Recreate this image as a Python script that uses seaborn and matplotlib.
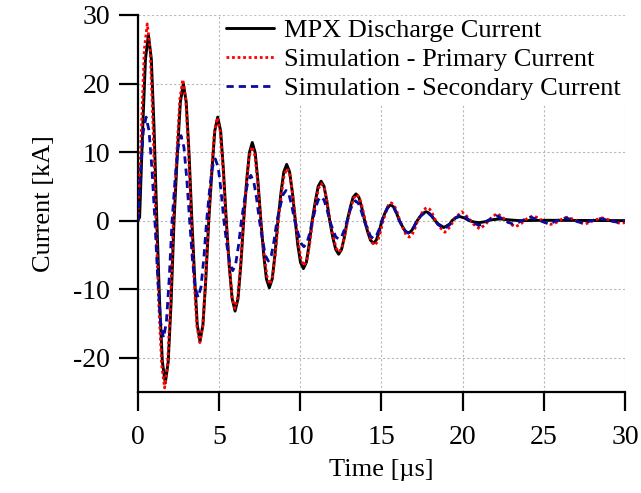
import matplotlib
matplotlib.use("Agg")
import matplotlib.pyplot as plt
import seaborn as sns

# --- data (time in us, current in kA) ---
mpx_t = [0.00, 0.10, 0.29, 0.46, 0.64, 0.82, 0.99, 1.16,
         1.33, 1.50, 1.68, 1.86, 2.04, 2.22,
         2.43, 2.61, 2.79, 2.97, 3.14, 3.32,
         3.50, 3.65, 3.82, 4.00, 4.17, 4.36,
         4.56, 4.73, 4.91, 5.09, 5.26, 5.44,
         5.62, 5.80, 5.98, 6.16, 6.33, 6.51,
         6.69, 6.86, 7.04, 7.22, 7.39, 7.57,
         7.74, 7.91, 8.09, 8.27, 8.44, 8.62,
         8.81, 8.98, 9.16, 9.34, 9.51, 9.69,
         9.84, 10.01, 10.19, 10.37, 10.54, 10.73,
         10.93, 11.10, 11.28, 11.46, 11.63, 11.81,
         12.00, 12.18, 12.36, 12.54, 12.71, 12.89,
         13.08, 13.25, 13.43, 13.61, 13.78, 13.96,
         14.15, 14.32, 14.50, 14.68, 14.85, 15.03,
         15.22, 15.39, 15.57, 15.75, 15.92, 16.10,
         16.30, 16.47, 16.65, 16.83, 17.00, 17.20,
         17.40, 17.57, 17.75, 17.93, 18.10, 18.30,
         18.50, 18.85, 19.20, 19.35,
         19.55, 19.80, 20.10, 20.40,
         20.70, 21.00, 21.40, 21.70, 22.30, 22.90, 23.50, 25.00, 30.00]
mpx_i = [0.0, 0.5, 13.5, 23.6, 27.1, 23.6, 13.5, 0.0,
         -11.9, -20.6, -23.7, -20.6, -11.9, 0.0,
         10.0, 17.3, 20.0, 17.3, 10.0, 0.0,
         -8.8, -15.2, -17.6, -15.2, -8.8, 0.0,
         7.5, 13.1, 15.1, 13.1, 7.5, 0.0,
         -6.6, -11.4, -13.2, -11.4, -6.6, 0.0,
         5.7, 9.9, 11.4, 9.9, 5.7, 0.0,
         -4.9, -8.5, -9.8, -8.5, -4.9, 0.0,
         4.1, 7.1, 8.2, 7.1, 4.1, 0.0,
         -3.5, -6.1, -7.0, -6.1, -3.5, 0.0,
         2.9, 5.0, 5.75, 5.0, 2.9, 0.0,
         -2.45, -4.2, -4.9, -4.2, -2.45, 0.0,
         1.95, 3.4, 3.9, 3.4, 1.95, 0.0,
         -1.65, -2.85, -3.3, -2.85, -1.65, 0.0,
         1.15, 2.0, 2.3, 2.0, 1.15, 0.0,
         -0.9, -1.55, -1.8, -1.55, -0.9, 0.0,
         0.65, 1.1, 1.3, 1.1, 0.65, 0.0,
         -0.5, -1.0, -0.5, 0.0,
         0.4, 0.6, 0.4, 0.0,
         -0.2, -0.3, -0.15, 0.1, 0.25, 0.1, 0.0, 0.05, 0.0]

pri_t = [0.00, 0.22, 0.39, 0.57, 0.75, 0.92, 1.10,
         1.28, 1.46, 1.64, 1.82, 2.00, 2.18,
         2.40, 2.58, 2.76, 2.94, 3.11, 3.29,
         3.46, 3.63, 3.81, 3.99, 4.16, 4.34,
         4.54, 4.71, 4.89, 5.07, 5.24, 5.42,
         5.62, 5.79, 5.97, 6.15, 6.32, 6.50,
         6.68, 6.85, 7.03, 7.21, 7.38, 7.56,
         7.76, 7.94, 8.12, 8.30, 8.47, 8.65,
         8.83, 9.00, 9.18, 9.36, 9.53, 9.71,
         9.88, 10.05, 10.23, 10.41, 10.58, 10.76,
         10.95, 11.12, 11.30, 11.48, 11.65, 11.83,
         12.03, 12.20, 12.38, 12.56, 12.73, 12.91,
         13.12, 13.29, 13.47, 13.65, 13.82, 14.00,
         14.22, 14.39, 14.57, 14.75, 14.92, 15.10,
         15.28, 15.42, 15.60, 15.78, 15.95, 16.13,
         16.34, 16.52, 16.70, 16.88, 17.05, 17.23,
         17.45, 17.62, 17.80, 17.98, 18.15, 18.33,
         18.55, 18.90, 19.25, 19.43,
         19.65, 19.95, 20.25, 20.50,
         20.70, 21.05, 21.40, 21.60,
         21.80, 22.12, 22.45, 22.70,
         22.90, 23.25, 23.60, 23.80,
         24.00, 24.35, 24.70, 24.90,
         25.10, 25.42, 25.75, 25.95,
         26.15, 26.45, 26.75, 27.00,
         27.20, 27.52, 27.85, 28.05,
         28.30, 28.60, 28.90, 29.15,
         29.40, 29.70, 30.00]
pri_i = [0.0, 14.3, 25.0, 28.7, 25.0, 14.3, 0.0,
         -12.2, -21.1, -24.4, -21.1, -12.2, 0.0,
         10.3, 17.8, 20.6, 17.8, 10.3, 0.0,
         -8.9, -15.4, -17.8, -15.4, -8.9, 0.0,
         7.5, 13.0, 15.0, 13.0, 7.5, 0.0,
         -6.4, -11.1, -12.8, -11.1, -6.4, 0.0,
         5.4, 9.4, 10.8, 9.4, 5.4, 0.0,
         -4.65, -8.05, -9.3, -8.05, -4.65, 0.0,
         3.8, 6.6, 7.6, 6.6, 3.8, 0.0,
         -3.3, -5.7, -6.6, -5.7, -3.3, 0.0,
         2.7, 4.7, 5.4, 4.7, 2.7, 0.0,
         -2.3, -4.0, -4.6, -4.0, -2.3, 0.0,
         1.9, 3.3, 3.8, 3.3, 1.9, 0.0,
         -1.8, -3.1, -3.6, -3.1, -1.8, 0.0,
         1.3, 2.25, 2.6, 2.25, 1.3, 0.0,
         -1.2, -2.1, -2.4, -2.1, -1.2, 0.0,
         0.95, 1.65, 1.9, 1.65, 0.95, 0.0,
         -0.85, -1.7, -0.85, 0.0,
         0.65, 1.3, 0.65, 0.0,
         -0.6, -1.2, -0.6, 0.0,
         0.5, 1.05, 0.5, 0.0,
         -0.45, -0.9, -0.45, 0.0,
         0.35, 0.7, 0.35, 0.0,
         -0.3, -0.55, -0.3, 0.0,
         0.25, 0.5, 0.25, 0.0,
         -0.25, -0.5, -0.25, 0.0,
         0.2, 0.4, 0.2, 0.0,
         -0.2, -0.4, -0.3]

sec_t = [0.00, 0.17, 0.33, 0.50, 0.68, 0.86, 1.04,
         1.22, 1.39, 1.57, 1.75, 1.92, 2.10,
         2.29, 2.47, 2.65, 2.83, 3.00, 3.18,
         3.35, 3.52, 3.70, 3.88, 4.05, 4.23,
         4.41, 4.58, 4.76, 4.94, 5.11, 5.29,
         5.48, 5.66, 5.84, 6.02, 6.19, 6.37,
         6.58, 6.77, 6.95, 7.13, 7.30, 7.48,
         7.68, 7.85, 8.03, 8.21, 8.38, 8.56,
         8.77, 8.94, 9.12, 9.30, 9.47, 9.65,
         9.87, 10.04, 10.22, 10.40, 10.57, 10.75,
         10.93, 11.10, 11.28, 11.46, 11.63, 11.81,
         12.01, 12.18, 12.36, 12.54, 12.71, 12.89,
         13.06, 13.23, 13.40, 13.58, 13.75, 13.93,
         14.15, 14.32, 14.50, 14.68, 14.85, 15.03,
         15.22, 15.39, 15.57, 15.75, 15.92, 16.10,
         16.30, 16.47, 16.65, 16.83, 17.00, 17.18,
         17.40, 17.75, 18.10, 18.28,
         18.50, 18.85, 19.20, 19.38,
         19.60, 19.90, 20.20, 20.45,
         20.70, 21.00, 21.35, 21.55,
         21.80, 22.10, 22.40, 22.60,
         22.80, 23.10, 23.45, 23.65,
         23.90, 24.20, 24.50, 24.75,
         25.00, 25.30, 25.60, 25.80,
         26.05, 26.35, 26.65, 26.90,
         27.10, 27.40, 27.70, 27.95,
         28.20, 28.50, 28.80, 29.05,
         29.30, 29.55, 29.85, 30.00]
sec_i = [0.0, 7.5, 13.1, 15.1, 13.1, 7.5, 0.0,
         -8.55, -14.8, -17.1, -14.8, -8.55, 0.0,
         6.2, 10.7, 12.4, 10.7, 6.2, 0.0,
         -5.6, -9.7, -11.2, -9.7, -5.6, 0.0,
         4.5, 7.8, 9.0, 7.8, 4.5, 0.0,
         -3.65, -6.3, -7.3, -6.3, -3.65, 0.0,
         3.3, 5.7, 6.6, 5.7, 3.3, 0.0,
         -2.95, -5.1, -5.9, -5.1, -2.95, 0.0,
         2.2, 3.8, 4.4, 3.8, 2.2, 0.0,
         -1.9, -3.3, -3.8, -3.3, -1.9, 0.0,
         1.75, 3.0, 3.5, 3.0, 1.75, 0.0,
         -1.35, -2.35, -2.7, -2.35, -1.35, 0.0,
         1.45, 2.5, 2.9, 2.5, 1.45, 0.0,
         -1.3, -2.25, -2.6, -2.25, -1.3, 0.0,
         1.1, 1.9, 2.2, 1.9, 1.1, 0.0,
         -0.9, -1.55, -1.8, -1.55, -0.9, 0.0,
         0.65, 1.3, 0.65, 0.0,
         -0.6, -1.2, -0.6, 0.0,
         0.45, 0.9, 0.45, 0.0,
         -0.35, -0.7, -0.35, 0.0,
         0.35, 0.7, 0.35, 0.0,
         -0.25, -0.5, -0.25, 0.0,
         0.25, 0.5, 0.25, 0.0,
         -0.22, -0.45, -0.22, 0.0,
         0.2, 0.4, 0.2, 0.0,
         -0.18, -0.35, -0.18, 0.0,
         0.15, 0.3, 0.15, 0.0,
         -0.12, -0.25, -0.12, 0.0]

x_ticks = [0, 5, 10, 15, 20, 25, 30]
y_ticks = [-20, -10, 0, 10, 20, 30]

sns.set_theme(style="ticks")
plt.rcParams['font.family'] = ['Liberation Serif', 'DejaVu Serif']
plt.rcParams['axes.unicode_minus'] = False
for key in ['text.color', 'axes.labelcolor', 'xtick.color', 'ytick.color',
            'xtick.labelcolor', 'ytick.labelcolor']:
    plt.rcParams[key] = 'black'

fig = plt.figure(figsize=(6.41, 4.93), dpi=100)
ax = fig.add_axes([0.2153, 0.2049, 0.7597, 0.7647])

sns.lineplot(x=mpx_t, y=mpx_i, ax=ax, color='black', lw=2.1,
             label='MPX Discharge Current', zorder=3)
sns.lineplot(x=pri_t, y=pri_i, ax=ax, color='#ff0000', lw=2.0, linestyle=(0, (1, 1)),
             label='Simulation - Primary Current', zorder=4)
sns.lineplot(x=sec_t, y=sec_i, ax=ax, color='#0a0aa0', lw=2.0, linestyle=(0, (2.6, 1.8)),
             label='Simulation - Secondary Current', zorder=5)

ax.set_xlim(0, 30)
ax.set_ylim(-25, 30)
ax.set_xticks(x_ticks)
ax.set_yticks(y_ticks)
ax.grid(True, color='#b8b8b8', linestyle=(0, (2, 2)), lw=0.8)
ax.set_axisbelow(True)

for side in ['top', 'right']:
    ax.spines[side].set_visible(False)
for side in ['left', 'bottom']:
    ax.spines[side].set_linewidth(1.6)
    ax.spines[side].set_color('black')
ax.tick_params(direction='out', length=14, width=1.6, colors='black',
               labelsize=20, pad=6)
ax.tick_params(axis='x', pad=10)

ax.set_xlabel('Time [µs]', fontsize=19, labelpad=6)
ax.set_ylabel('Current [kA]', fontsize=19, labelpad=13)

leg = ax.legend(loc='upper right', fontsize=19, frameon=True, fancybox=False,
                framealpha=1, edgecolor='white', facecolor='white',
                handlelength=1.8, handletextpad=0.4, labelspacing=0.2,
                borderpad=0.1, borderaxespad=0.05)

fig.savefig('out.png', dpi=100)
